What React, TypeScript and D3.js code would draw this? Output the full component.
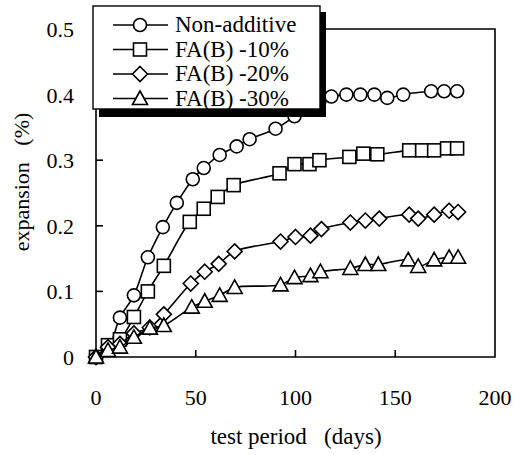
import React from "react";
import * as d3 from "d3";

const xTicks = [0, 50, 100, 150, 200];
const yTicks = [0, 0.1, 0.2, 0.3, 0.4, 0.5];

const seriesNames = ["Non-additive", "FA(B) -10%", "FA(B) -20%", "FA(B) -30%"];
const seriesShapes = ["circle", "square", "diamond", "triangle"];

const nonAdditiveDays = [0, 6, 12, 19, 26, 33.5, 40.5, 48.5, 54, 62, 70.5, 77, 90, 99.5, 105, 112, 118, 125.5, 132.5, 139.5, 146, 154, 168, 174.5, 181];
const nonAdditiveVals = [0, 0.012, 0.06, 0.094, 0.152, 0.198, 0.235, 0.271, 0.288, 0.308, 0.321, 0.332, 0.348, 0.367, 0.38, 0.39, 0.397, 0.4, 0.4, 0.4, 0.395, 0.4, 0.405, 0.405, 0.405];

const fa10Days = [0, 6, 12, 19, 26, 34, 47, 54, 61, 69, 92, 99.5, 107, 112, 127, 134, 141, 157, 163.5, 169.5, 176, 181];
const fa10Vals = [0, 0.018, 0.027, 0.061, 0.1, 0.139, 0.206, 0.226, 0.244, 0.262, 0.28, 0.294, 0.294, 0.3, 0.305, 0.31, 0.309, 0.315, 0.315, 0.315, 0.318, 0.318];

const fa20Days = [0, 6, 12, 19, 27, 34, 47.5, 54.5, 61.5, 69.5, 92.5, 100, 107.5, 113, 127.5, 135, 142, 157, 161.5, 169.5, 177, 181.5];
const fa20Vals = [0, 0.015, 0.02, 0.036, 0.045, 0.065, 0.112, 0.13, 0.142, 0.161, 0.176, 0.183, 0.185, 0.195, 0.205, 0.208, 0.211, 0.217, 0.211, 0.217, 0.223, 0.221];

const fa30Days = [0, 6, 12, 19, 27, 34, 48, 54.5, 62, 69.5, 92.5, 99.5, 107.5, 112.5, 127.5, 135, 141.5, 156.5, 161.5, 169.5, 177, 181.5];
const fa30Vals = [0, 0.01, 0.015, 0.03, 0.044, 0.048, 0.076, 0.085, 0.094, 0.106, 0.11, 0.121, 0.124, 0.13, 0.135, 0.141, 0.141, 0.148, 0.138, 0.148, 0.152, 0.152];

const seriesDays = [nonAdditiveDays, fa10Days, fa20Days, fa30Days];
const seriesVals = [nonAdditiveVals, fa10Vals, fa20Vals, fa30Vals];

const textStyle: React.CSSProperties = {
  fontFamily: '"Liberation Serif", "DejaVu Serif", "Times New Roman", serif',
  fontWeight: 400,
  whiteSpace: "pre",
};

function Marker({ shape, x, y }: { shape: string; x: number; y: number }) {
  const common = { fill: "#fff", stroke: "#000", strokeWidth: 1.6 };
  if (shape === "circle") return <circle cx={x} cy={y} r={6.5} {...common} />;
  if (shape === "square") return <rect x={x - 6.5} y={y - 6.5} width={13} height={13} {...common} />;
  if (shape === "diamond")
    return <path d={`M${x},${y - 7.5}L${x + 7.5},${y}L${x},${y + 7.5}L${x - 7.5},${y}Z`} {...common} />;
  return <path d={`M${x},${y - 7.5}L${x + 7.5},${y + 6}L${x - 7.5},${y + 6}Z`} {...common} />;
}

export default function App() {
  const width = 515;
  const height = 455;
  const x = d3.scaleLinear().domain([0, 200]).range([96, 495]);
  const y = d3.scaleLinear().domain([0, 0.5]).range([357, 29]);
  const line = d3.line<[number, number]>().curve(d3.curveCatmullRom.alpha(0.5));

  const legendX = 93, legendY = 6, legendW = 227, legendH = 103;
  const rowY = (i: number) => 25 + i * 24.5;

  return (
    <svg width={width} height={height} style={{ position: "absolute", left: 0, top: 0, background: "#fff" }}>
      <rect x={0} y={0} width={width} height={height} fill="#fff" />
      <path d={`M${x(0)},${y(0.5)}L${x(0)},${y(0)}L${x(200)},${y(0)}L${x(200)},${y(0.5)}L${x(0)},${y(0.5)}`} fill="none" stroke="#000" strokeWidth={1.6} />
      {xTicks.slice(1, -1).map((t) => (
        <line key={"xt" + t} x1={x(t)} x2={x(t)} y1={y(0)} y2={y(0) - 7} stroke="#000" strokeWidth={1.6} />
      ))}
      {yTicks.slice(1, -1).map((t) => (
        <line key={"yt" + t} x1={x(0)} x2={x(0) + 7} y1={y(t)} y2={y(t)} stroke="#000" strokeWidth={1.6} />
      ))}
      {xTicks.map((t) => (
        <text key={"xl" + t} x={x(t)} y={405} textAnchor="middle" fontSize={22} style={textStyle}>
          {t}
        </text>
      ))}
      {yTicks.map((t) => (
        <text key={"yl" + t} x={74} y={y(t) + 8} textAnchor="end" fontSize={22} style={textStyle}>
          {t === 0 ? "0" : t.toFixed(1)}
        </text>
      ))}
      <text x={296} y={444} textAnchor="middle" fontSize={23} style={textStyle}>
        {"test period   (days)"}
      </text>
      <text transform={`translate(29,182) rotate(-90)`} textAnchor="middle" fontSize={22} style={textStyle}>
        {"expansion   (%)"}
      </text>
      {seriesDays.map((days, si) => {
        const pts = days.map((d, i) => [x(d), y(seriesVals[si][i])] as [number, number]);
        return (
          <g key={"s" + si}>
            <path d={line(pts) || ""} fill="none" stroke="#000" strokeWidth={1.6} />
            {pts.map((p, i) => (
              <Marker key={i} shape={seriesShapes[si]} x={p[0]} y={p[1]} />
            ))}
          </g>
        );
      })}
      <rect x={legendX + 6} y={legendY + 6} width={legendW} height={legendH + 2} fill="#000" />
      <rect x={legendX} y={legendY} width={legendW} height={legendH} fill="#fff" stroke="#000" strokeWidth={1.4} />
      {seriesNames.map((name, i) => (
        <g key={"lg" + i}>
          <line x1={113} x2={168} y1={rowY(i)} y2={rowY(i)} stroke="#000" strokeWidth={1.6} />
          <Marker shape={seriesShapes[i]} x={140} y={rowY(i)} />
          <text x={175} y={rowY(i) + 7} fontSize={23} style={textStyle}>
            {name}
          </text>
        </g>
      ))}
    </svg>
  );
}
